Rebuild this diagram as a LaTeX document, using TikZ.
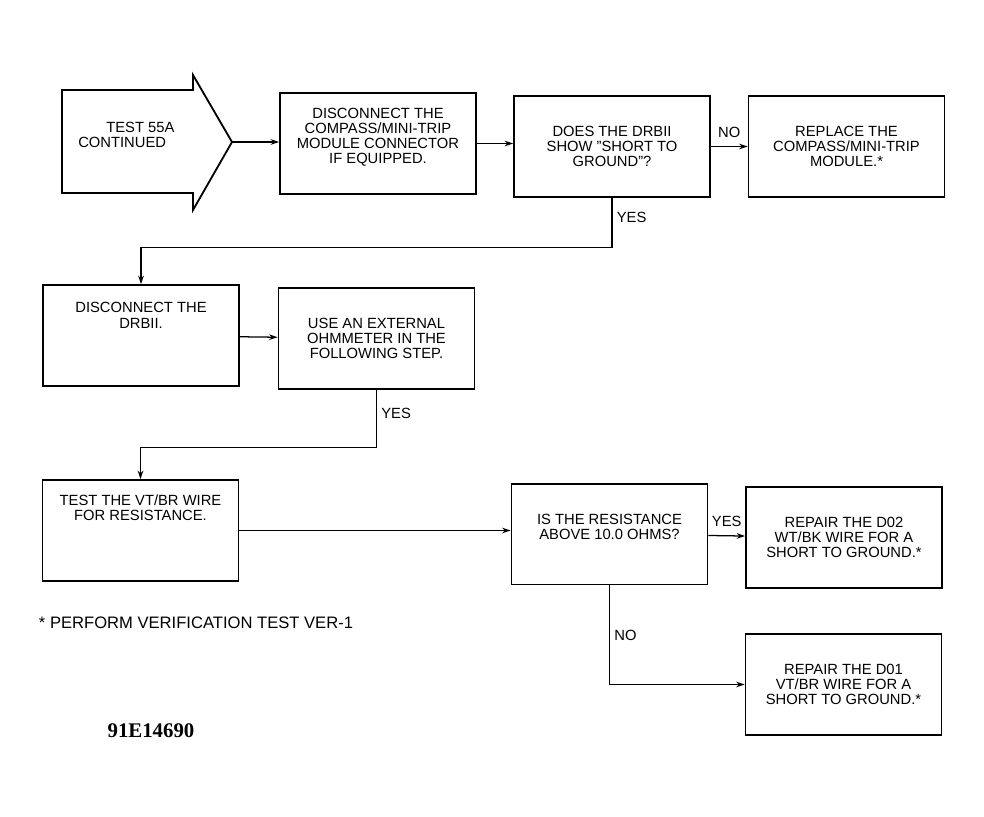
\documentclass[tikz,border=0pt]{standalone}
\usepackage{fontspec}
\setmainfont{Liberation Sans}
\newfontfamily\serifbf{Liberation Serif}
\usetikzlibrary{arrows.meta}
\newcommand\txtlift[1]{\\[#1]\mbox{}}

\begin{document}
\begin{tikzpicture}[x=0.025cm, y=-0.025cm, >={Stealth[length=6pt,width=4pt]},
        box/.style={draw, line width=1.3pt, minimum width=4.9cm, minimum height=2.52cm,
            align=center, inner sep=2pt, font=\fontsize{10.5}{10.7}\selectfont},
        flow/.style={->, line width=0.9pt},
        lbl/.style={font=\fontsize{10.5}{10.7}\selectfont, inner sep=3pt}]
        \useasboundingbox (0,0) rectangle (984,816);

        % start arrow
        \draw[line width=1.3pt] (62,90) -- (193,90) -- (193,75) -- (232,142)
            -- (193,210) -- (193,193) -- (62,193) -- cycle;
        \node[lbl, align=left, anchor=west, inner sep=0pt] (T) at (78,134.5) {\hspace*{0.7cm}TEST 55A\\CONTINUED};
        \coordinate (tip) at (232,142);

        % boxes
        \node[box] (disc) at (378,143.5) {DISCONNECT THE\\COMPASS/MINI-TRIP\\MODULE CONNECTOR\\IF EQUIPPED.\txtlift{0pt}};
        \node[box] (drb) at (612,146.5) {DOES THE DRBII\\SHOW \symbol{34}SHORT TO\\GROUND\symbol{34}?};
        \node[box] (repl) at (846.5,146.5) {REPLACE THE\\COMPASS/MINI-TRIP\\MODULE.*};
        \node[box] (ddrb) at (141,335.5) {DISCONNECT THE\\DRBII.\txtlift{18pt}};
        \node[box] (ohm) at (376.5,338.5) {USE AN EXTERNAL\\OHMMETER IN THE\\FOLLOWING STEP.};
        \node[box] (wire) at (140.5,530.5) {TEST THE VT/BR WIRE\\FOR RESISTANCE.\txtlift{22pt}};
        \node[box] (res) at (609.5,534) {IS THE RESISTANCE\\ABOVE 10.0 OHMS?\txtlift{0pt}};
        \node[box] (rtwo) at (844,537.5) {REPAIR THE D02\\WT/BK WIRE FOR A\\SHORT TO GROUND.*};
        \node[box] (rone) at (843.5,684.5) {REPAIR THE D01\\VT/BR WIRE FOR A\\SHORT TO GROUND.*};

        % connectors
        \draw[flow] (tip) -- (tip -| disc.west);
        \draw[flow] (disc.east) -- (disc.east -| drb.west);
        \draw[flow] (drb) -- node[lbl, above, yshift=3pt] {NO} (repl);
        \draw[flow] (drb.south) -- node[lbl, right, pos=0.4] {YES} ++(0,50) -| (ddrb.north);
        \draw[flow] (ddrb) -- (ohm);
        \draw[flow] (ohm.south) -- node[lbl, right, pos=0.4] {YES} ++(0,58) -| (wire.north);
        \draw[flow] (wire.east) -- (wire.east -| res.west);
        \draw[flow] (res) -- node[lbl, above, yshift=3pt] {YES} (rtwo);
        \draw[flow] (res.south) |- node[lbl, right, pos=0.25] {NO} (rone.west);

        % notes
        \node[anchor=west, font=\fontsize{11.8}{13}\selectfont] (note) at (34,623) {* PERFORM VERIFICATION TEST VER-1};
        \node[font=\serifbf\bfseries\fontsize{14.8}{16}\selectfont] (fig) at (151,731) {91E14690};
\end{tikzpicture}
\end{document}
